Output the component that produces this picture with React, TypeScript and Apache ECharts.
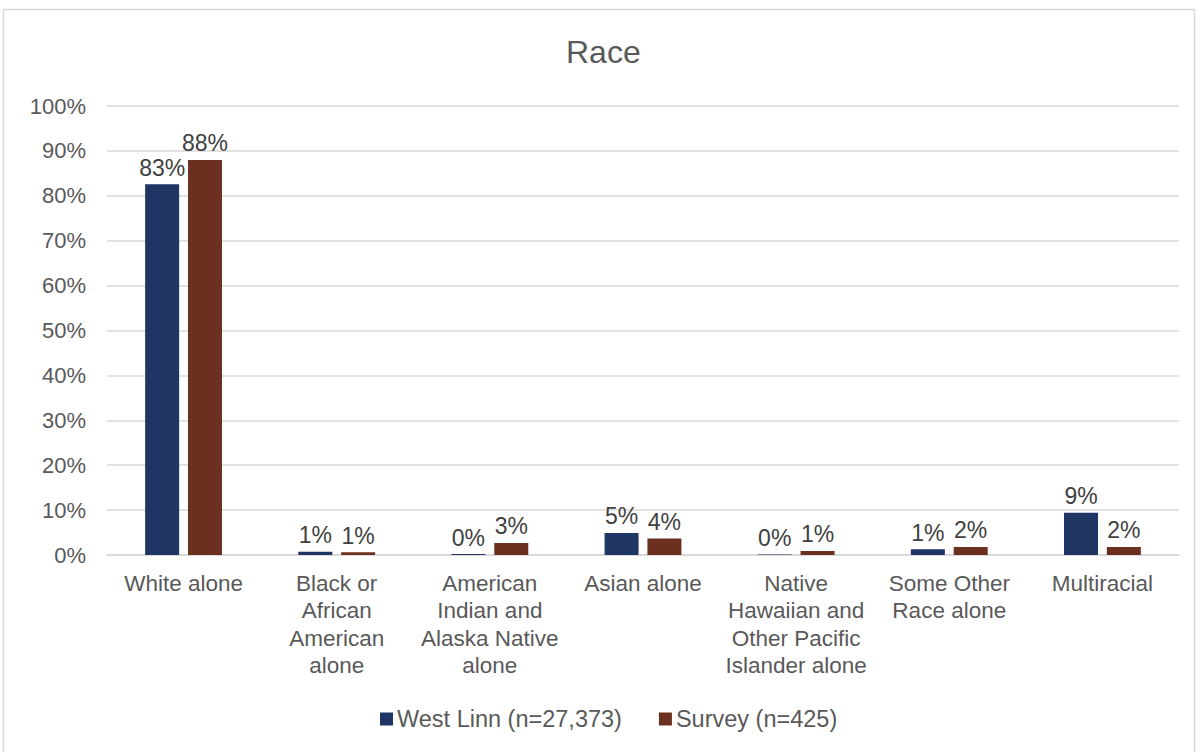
import React, { useEffect, useRef } from "react";
import * as echarts from "echarts";

const categories = [
  "White alone",
  "Black or\nAfrican\nAmerican\nalone",
  "American\nIndian and\nAlaska Native\nalone",
  "Asian alone",
  "Native\nHawaiian and\nOther Pacific\nIslander alone",
  "Some Other\nRace alone",
  "Multiracial",
];
const westLinn = [82.6, 0.7, 0.2, 4.9, 0.1, 1.3, 9.4];
const survey = [88.0, 0.6, 2.7, 3.7, 0.9, 1.8, 1.8];
const seriesNames = ["West Linn (n=27,373)", "Survey (n=425)"];
const yTicks = [0, 10, 20, 30, 40, 50, 60, 70, 80, 90, 100];

const FONT = "'Liberation Sans', Arial, sans-serif";

export default function App() {
  const ref = useRef<HTMLDivElement>(null);
  useEffect(() => {
    if (!ref.current) return;
    const chart = echarts.init(ref.current, undefined, { renderer: "svg" });
    const label = {
      show: true,
      position: "top",
      distance: 5,
      color: "#404040",
      fontSize: 23,
      fontFamily: FONT,
      formatter: (p: any) => Math.round(p.value) + "%",
    };
    chart.setOption({
      animation: false,
      backgroundColor: "#ffffff",
      textStyle: { fontFamily: FONT },
      title: {
        text: "Race",
        left: 561,
        top: 31,
        textStyle: { fontSize: 32, fontWeight: "normal", color: "#595959", fontFamily: FONT },
      },
      legend: {
        top: 702,
        left: 375,
        itemWidth: 13,
        itemHeight: 13,
        itemGap: 37,
        icon: "rect",
        textStyle: { fontSize: 23.5, color: "#595959", fontFamily: FONT, padding: [0, 0, 0, -1] },
        data: seriesNames,
      },
      grid: { left: 107, right: 19, top: 106, bottom: 197, containLabel: false },
      xAxis: {
        type: "category",
        data: categories,
        axisLine: { lineStyle: { color: "#d9d9d9", width: 1.5 } },
        axisTick: { show: false },
        axisLabel: {
          color: "#595959",
          fontSize: 22.5,
          lineHeight: 27.3,
          margin: 15,
          interval: 0,
          fontFamily: FONT,
        },
      },
      yAxis: {
        type: "value",
        min: yTicks[0],
        max: yTicks[yTicks.length - 1],
        interval: 10,
        axisLabel: {
          formatter: "{value}%",
          color: "#595959",
          fontSize: 22,
          margin: 21,
          fontFamily: FONT,
        },
        splitLine: { lineStyle: { color: "#d9d9d9", width: 1.5 } },
        axisLine: { show: false },
        axisTick: { show: false },
      },
      series: [
        {
          name: seriesNames[0],
          type: "bar",
          data: westLinn,
          barWidth: 34,
          barGap: "26%",
          itemStyle: { color: "#1f3564" },
          label,
        },
        {
          name: seriesNames[1],
          type: "bar",
          data: survey,
          barWidth: 34,
          barGap: "26%",
          itemStyle: { color: "#6b3020" },
          label,
        },
      ],
      graphic: [
        {
          type: "rect",
          shape: { x: 3.5, y: 9.5, width: 1191, height: 760 },
          style: { fill: "none", stroke: "#d9d9d9", lineWidth: 1.5 },
          silent: true,
        },
      ],
    });
    return () => chart.dispose();
  }, []);
  return (
    <div
      ref={ref}
      style={{ position: "fixed", left: 0, top: 0, width: 1198, height: 752 }}
    />
  );
}
